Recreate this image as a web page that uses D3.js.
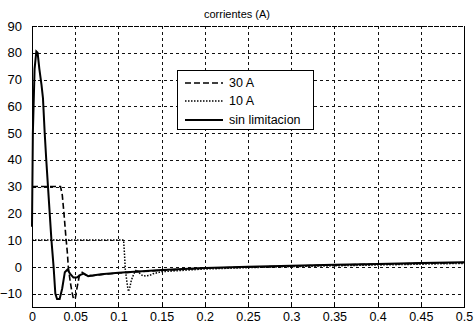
<!DOCTYPE html>
<html><head><meta charset="utf-8">
<script src="https://cdn.jsdelivr.net/npm/d3@7"></script>
<style>
html,body{margin:0;padding:0;background:#fff;}
svg{display:block;font-family:"Liberation Sans",Arial,sans-serif;}
</style></head>
<body>
<script>
const title = "corrientes (A)";
const xTicks = [0,0.05,0.1,0.15,0.2,0.25,0.3,0.35,0.4,0.45,0.5];
const xTickLabels = ["0","0.05","0.1","0.15","0.2","0.25","0.3","0.35","0.4","0.45","0.5"];
const yTicks = [-10,0,10,20,30,40,50,60,70,80,90];
const seriesNames = ["30 A","10 A","sin limitacion"];

// sin limitacion (solid)
const tFree = [0,0.001,0.003,0.005,0.0065,0.0085,0.011,0.0127,0.0147,0.0165,0.0185,0.0205,0.0225,0.025,0.027,0.029,0.032,0.035,0.038,0.041,0.044,0.048,0.052,0.056,0.06,0.065,0.07,0.08,0.1,0.15,0.2,0.25,0.3,0.35,0.4,0.45,0.5];
const vFree = [15,50,74,80.5,80,74,68,63,50,40,30,20,10,0,-10,-12,-12,-8,-2,-1,-2.5,-4,-4,-3,-2.5,-3.5,-3.2,-2.8,-2.2,-1.2,-0.4,0,0.4,0.8,1.1,1.4,1.7];

// 30 A (dashed)
const t30 = [0,0.033,0.035,0.037,0.039,0.041,0.042,0.044,0.046,0.048,0.050,0.052,0.055,0.058,0.062,0.07,0.08,0.1,0.15,0.2,0.25,0.3,0.35,0.4,0.45,0.5];
const v30 = [30,30,27,20,12,5,0,-5,-9,-12,-12,-8,-3,-2,-3,-3.3,-2.9,-2.3,-1.3,-0.5,-0.1,0.3,0.7,1.0,1.3,1.6];

// 10 A (dotted)
const t10 = [0,0.106,0.107,0.108,0.110,0.1115,0.113,0.115,0.118,0.121,0.125,0.128,0.132,0.136,0.14,0.15,0.2,0.25,0.3,0.35,0.4,0.45,0.5];
const v10 = [10,10,5,-1,-6,-9.2,-8,-5,-2.5,-1,-2.5,-3.3,-3.4,-3.2,-2.6,-1.8,-0.8,-0.3,0.1,0.4,0.7,1.0,1.3];

const W = 474, H = 324;
const svg = d3.select("body").append("svg").attr("width",W).attr("height",H);
const x = d3.scaleLinear().domain([0,0.5]).range([32,464]);
const y = d3.scaleLinear().domain([-15,90]).range([307,26]);

// grid
const grid = svg.append("g").attr("stroke","#111").attr("stroke-width",1).attr("stroke-dasharray","3,3").attr("shape-rendering","crispEdges");
xTicks.slice(1,-1).forEach(t=>{
  grid.append("line").attr("x1",Math.round(x(t))+0.5).attr("x2",Math.round(x(t))+0.5).attr("y1",y(90)).attr("y2",y(-15));
});
yTicks.forEach(t=>{
  grid.append("line").attr("x1",x(0)).attr("x2",x(0.5)).attr("y1",Math.round(y(t))+0.5).attr("y2",Math.round(y(t))+0.5);
});

// axes (d3 axes, labels only)
const xAxis = d3.axisBottom(x).tickValues(xTicks).tickFormat((d,i)=>xTickLabels[i]).tickSize(0).tickPadding(0);
const gx = svg.append("g").attr("transform",`translate(0,${y(-15)})`).call(xAxis);
gx.select(".domain").remove();
gx.selectAll("text").attr("font-size","12.5px").attr("fill","#000").attr("font-family","Liberation Sans, Arial, sans-serif").attr("y",13.5).attr("dy","0");

const yAxis = d3.axisLeft(y).tickValues(yTicks).tickSize(0).tickPadding(10);
const gy = svg.append("g").attr("transform",`translate(${x(0)},0)`).call(yAxis);
gy.select(".domain").remove();
gy.selectAll("text").attr("font-size","13px").attr("fill","#000").attr("font-family","Liberation Sans, Arial, sans-serif");

// box
const box = svg.append("g").attr("stroke","#000").attr("fill","none").attr("shape-rendering","crispEdges");
box.append("line").attr("x1",32.5).attr("x2",32.5).attr("y1",y(90)).attr("y2",y(-15)+0.5);
box.append("line").attr("x1",32).attr("x2",464.5).attr("y1",Math.round(y(-15))+0.5).attr("y2",Math.round(y(-15))+0.5);
box.append("line").attr("x1",464.5).attr("x2",464.5).attr("y1",y(90)).attr("y2",y(-15)+0.5);
box.append("line").attr("x1",32).attr("x2",464.5).attr("y1",Math.round(y(90))+0.5).attr("y2",Math.round(y(90))+0.5).attr("stroke-dasharray","5,1");

// small inward ticks
xTicks.forEach(t=>{
  box.append("line").attr("x1",Math.round(x(t))+0.5).attr("x2",Math.round(x(t))+0.5).attr("y1",y(-15)).attr("y2",y(-15)-4);
});
yTicks.forEach(t=>{
  box.append("line").attr("x1",32).attr("x2",36).attr("y1",Math.round(y(t))+0.5).attr("y2",Math.round(y(t))+0.5);
});

// title
svg.append("text").attr("x",237).attr("y",18).attr("text-anchor","middle").attr("font-size","11px").text(title);

// lines
const line = d3.line().x(d=>x(d[0])).y(d=>y(d[1]));
const plotG = svg.append("g").attr("fill","none").attr("stroke","#000");
plotG.append("path").datum(d3.zip(t10,v10)).attr("d",line).attr("stroke-width",1.5).attr("stroke-dasharray","1.5,1.5");
plotG.append("path").datum(d3.zip(t30,v30)).attr("d",line).attr("stroke-width",1.6).attr("stroke-dasharray","6,3");
plotG.append("path").datum(d3.zip(tFree,vFree)).attr("d",line).attr("stroke-width",2);

// legend
const lg = svg.append("g");
lg.append("rect").attr("x",177.5).attr("y",70.5).attr("width",136).attr("height",59).attr("fill","#fff").attr("stroke","#000");
const styles = [{w:1.6,da:"6,3"},{w:1.5,da:"1.5,1.5"},{w:2,da:null}];
const rowsY = [83,101,120];
seriesNames.forEach((n,i)=>{
  const l = lg.append("line").attr("x1",185).attr("x2",223).attr("y1",rowsY[i]).attr("y2",rowsY[i]).attr("stroke","#000").attr("stroke-width",styles[i].w);
  if(styles[i].da) l.attr("stroke-dasharray",styles[i].da);
  lg.append("text").attr("x",229).attr("y",rowsY[i]).attr("dy","0.35em").attr("font-size","12.5px").text(n);
});
</script>
</body></html>
